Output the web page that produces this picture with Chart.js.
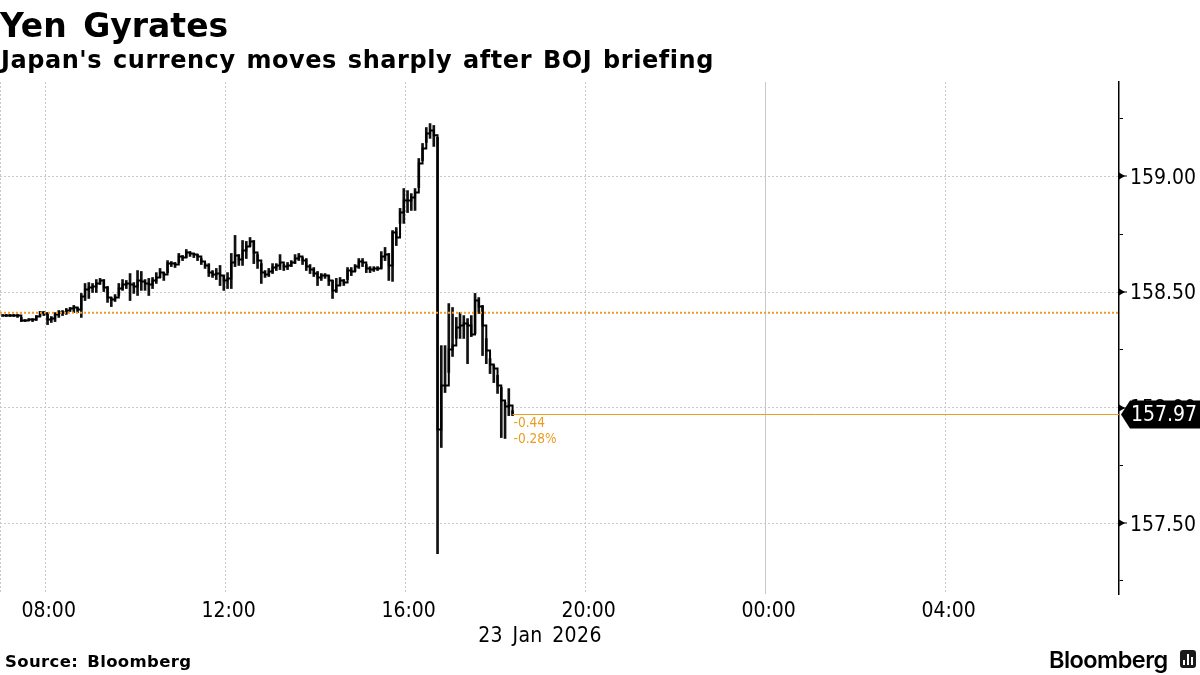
<!DOCTYPE html>
<html>
<head>
<meta charset="utf-8">
<title>Yen Gyrates</title>
<script src="https://cdn.jsdelivr.net/npm/chart.js@4"></script>
<style>
    html, body { margin: 0; padding: 0; background: #fff; }
    #page { position: relative; width: 1200px; height: 675px; overflow: hidden; }
    #page div { position: absolute; white-space: pre; color: #000; }
    canvas { position: absolute; left: 0; top: 0; }
    #title { left: 0; top: 6px; font: bold 33px "DejaVu Sans"; line-height: 40px; word-spacing: 5px; }
    #subtitle { left: 1px; top: 44px; font: bold 24px "DejaVu Sans"; line-height: 32px; letter-spacing: 0.55px; word-spacing: 2px; }
    #date { left: 540px; top: 622px; transform: translateX(-50%); font: 21px "DejaVu Sans Condensed"; line-height: 26px; letter-spacing: 0.4px; word-spacing: 3px; }
    #source { left: 5px; top: 651px; font: bold 16.5px "DejaVu Sans"; line-height: 22px; letter-spacing: 0.35px; word-spacing: 3px; }
    #brand { left: 1049px; top: 645px; font: 600 23.5px Inter; line-height: 30px; letter-spacing: -0.55px; }
    #logo { left: 1180px; top: 650px; width: 16px; height: 18px; background: #1a1a1a; border-radius: 3px; }
    #logo span { position: absolute; bottom: 3px; width: 2px; background: #fff; }
</style>
</head>
<body>
<div id="page">
    <canvas id="chart" width="1200" height="675"></canvas>
    <div id="title">Yen Gyrates</div>
    <div id="subtitle">Japan's currency moves sharply after BOJ briefing</div>
    <div id="date">23 Jan 2026</div>
    <div id="source">Source: Bloomberg</div>
    <div id="brand">Bloomberg</div>
    <div id="logo"><span style="left:3px;height:5px"></span><span style="left:7px;height:11px"></span><span style="left:11px;height:8px"></span></div>
</div>
<script>
var barTimes = [
    "07:00", "07:05", "07:10", "07:15", "07:20", "07:25", "07:30", "07:35", "07:40", "07:45", "07:50", "07:55",
    "08:00", "08:05", "08:10", "08:15", "08:20", "08:25", "08:30", "08:35", "08:40", "08:45", "08:50", "08:55",
    "09:00", "09:05", "09:10", "09:15", "09:20", "09:25", "09:30", "09:35", "09:40", "09:45", "09:50", "09:55",
    "10:00", "10:05", "10:10", "10:15", "10:20", "10:25", "10:30", "10:35", "10:40", "10:45", "10:50", "10:55",
    "11:00", "11:05", "11:10", "11:15", "11:20", "11:25", "11:30", "11:35", "11:40", "11:45", "11:50", "11:55",
    "12:00", "12:05", "12:10", "12:15", "12:20", "12:25", "12:30", "12:35", "12:40", "12:45", "12:50", "12:55",
    "13:00", "13:05", "13:10", "13:15", "13:20", "13:25", "13:30", "13:35", "13:40", "13:45", "13:50", "13:55",
    "14:00", "14:05", "14:10", "14:15", "14:20", "14:25", "14:30", "14:35", "14:40", "14:45", "14:50", "14:55",
    "15:00", "15:05", "15:10", "15:15", "15:20", "15:25", "15:30", "15:35", "15:40", "15:45", "15:50", "15:55",
    "16:00", "16:05", "16:10", "16:15", "16:20", "16:25", "16:30", "16:35", "16:40", "16:45", "16:50", "16:55",
    "17:00", "17:05", "17:10", "17:15", "17:20", "17:25", "17:30", "17:35", "17:40", "17:45", "17:50", "17:55",
    "18:00", "18:05", "18:10", "18:15", "18:20"
];

var highs = [
    158.403, 158.403, 158.403, 158.403, 158.403, 158.390, 158.381, 158.385, 158.385, 158.398,
    158.416, 158.416, 158.411, 158.394, 158.411, 158.420, 158.420, 158.429, 158.433, 158.442,
    158.433, 158.494, 158.537, 158.541, 158.537, 158.554, 158.559, 158.554, 158.524, 158.476,
    158.489, 158.537, 158.554, 158.550, 158.580, 158.541, 158.593, 158.589, 158.554, 158.559,
    158.563, 158.584, 158.602, 158.584, 158.636, 158.632, 158.628, 158.667, 158.658, 158.684,
    158.675, 158.667, 158.662, 158.645, 158.623, 158.623, 158.593, 158.602, 158.615, 158.571,
    158.584, 158.667, 158.745, 158.662, 158.723, 158.719, 158.736, 158.723, 158.662, 158.623,
    158.593, 158.602, 158.623, 158.623, 158.662, 158.619, 158.628, 158.636, 158.662, 158.667,
    158.649, 158.645, 158.619, 158.606, 158.589, 158.580, 158.580, 158.571, 158.550, 158.559,
    158.563, 158.554, 158.606, 158.606, 158.619, 158.645, 158.645, 158.619, 158.610, 158.610,
    158.610, 158.675, 158.693, 158.667, 158.766, 158.779, 158.862, 158.948, 158.939, 158.926,
    158.948, 159.078, 159.143, 159.212, 159.229, 159.221, 159.169, 158.268, 158.268, 158.450,
    158.433, 158.390, 158.411, 158.398, 158.385, 158.398, 158.494, 158.476, 158.442, 158.299,
    158.212, 158.182, 158.139, 158.087, 158.022, 158.082, 157.987
];

var lows = [
    158.394, 158.394, 158.394, 158.394, 158.390, 158.372, 158.372, 158.377, 158.372, 158.377,
    158.394, 158.398, 158.359, 158.368, 158.372, 158.390, 158.398, 158.403, 158.416, 158.411,
    158.411, 158.390, 158.463, 158.472, 158.498, 158.498, 158.533, 158.502, 158.455, 158.437,
    158.459, 158.485, 158.507, 158.515, 158.463, 158.494, 158.485, 158.507, 158.507, 158.485,
    158.515, 158.537, 158.563, 158.550, 158.584, 158.610, 158.606, 158.628, 158.636, 158.649,
    158.654, 158.649, 158.636, 158.619, 158.602, 158.567, 158.563, 158.554, 158.528, 158.507,
    158.515, 158.515, 158.610, 158.615, 158.615, 158.645, 158.697, 158.623, 158.602, 158.537,
    158.563, 158.567, 158.580, 158.593, 158.597, 158.593, 158.597, 158.610, 158.623, 158.636,
    158.619, 158.593, 158.580, 158.567, 158.528, 158.550, 158.559, 158.528, 158.472, 158.498,
    158.528, 158.528, 158.554, 158.571, 158.589, 158.602, 158.610, 158.584, 158.584, 158.589,
    158.593, 158.602, 158.636, 158.550, 158.546, 158.701, 158.797, 158.797, 158.844, 158.853,
    158.853, 158.952, 159.069, 159.147, 159.165, 159.130, 157.368, 157.827, 158.065, 158.152,
    158.221, 158.299, 158.299, 158.299, 158.190, 158.307, 158.320, 158.407, 158.225, 158.190,
    158.147, 158.108, 158.061, 157.870, 157.866, 157.965, 157.965
];

var closes = [
    158.398, 158.398, 158.398, 158.398, 158.398, 158.377, 158.377, 158.381, 158.381, 158.394,
    158.411, 158.407, 158.381, 158.385, 158.403, 158.411, 158.411, 158.420, 158.429, 158.433,
    158.424, 158.481, 158.511, 158.520, 158.524, 158.537, 158.550, 158.520, 158.476, 158.468,
    158.476, 158.515, 158.533, 158.537, 158.533, 158.524, 158.550, 158.546, 158.537, 158.533,
    158.550, 158.563, 158.584, 158.576, 158.623, 158.623, 158.619, 158.654, 158.649, 158.671,
    158.667, 158.662, 158.654, 158.632, 158.615, 158.584, 158.576, 158.580, 158.571, 158.550,
    158.559, 158.628, 158.658, 158.641, 158.680, 158.697, 158.719, 158.671, 158.636, 158.584,
    158.576, 158.589, 158.606, 158.615, 158.628, 158.610, 158.615, 158.628, 158.645, 158.654,
    158.636, 158.610, 158.597, 158.580, 158.563, 158.571, 158.571, 158.550, 158.507, 158.528,
    158.550, 158.541, 158.593, 158.589, 158.610, 158.632, 158.628, 158.602, 158.597, 158.602,
    158.602, 158.654, 158.662, 158.615, 158.758, 158.736, 158.844, 158.896, 158.896, 158.909,
    158.931, 159.056, 159.121, 159.186, 159.199, 159.178, 157.905, 158.095, 158.095, 158.251,
    158.268, 158.346, 158.355, 158.364, 158.355, 158.316, 158.463, 158.437, 158.355, 158.247,
    158.186, 158.169, 158.095, 158.030, 158.004, 158.009, 157.970
];

var previousClose = 158.41;
var lastPrice = 157.97;
var changeLabels = ["-0.44", "-0.28%"];

var xTickHours = [7, 8, 12, 16, 20, 24, 28];
var xTickLabels = ["", "08:00", "12:00", "16:00", "20:00", "00:00", "04:00"];
var yTickValues = [157.25, 157.5, 157.75, 158, 158.25, 158.5, 158.75, 159, 159.25];

var xMin = 6.985;
var xMax = 31.852;
var yMin = 157.193;
var yMax = 159.409;

var BAR_CENTRE = 2.5 / 60;
var FONT = "'DejaVu Sans Condensed'";
var ORANGE = "#ec9c1e";
var GRID = "#c8c8c8";

function hourOf(t) {
    var parts = t.split(":");
    return parseInt(parts[0], 10) + parseInt(parts[1], 10) / 60 + BAR_CENTRE;
}

function isMajor(v) {
    return Math.abs(v * 2 - Math.round(v * 2)) < 1e-6;
}

var hours = barTimes.map(hourOf);

var rangeBars = hours.map(function (h, i) {
    return { x: h, y: [lows[i], highs[i]] };
});
var closeLine = hours.map(function (h, i) {
    return { x: h, y: closes[i] };
});

// price tag, axis arrows and the change figures
var overlay = {
    id: "overlay",
    afterDraw: function (chart) {
        var ctx = chart.ctx;
        var xs = chart.scales.x;
        var ys = chart.scales.y;
        var axisX = chart.chartArea.right;

        ctx.save();
        ctx.fillStyle = "#000";
        yTickValues.forEach(function (v) {
            if (!isMajor(v)) {
                return;
            }
            var py = Math.round(ys.getPixelForValue(v));
            ctx.beginPath();
            ctx.moveTo(axisX, py - 3.5);
            ctx.lineTo(axisX + 6, py);
            ctx.lineTo(axisX, py + 3.5);
            ctx.closePath();
            ctx.fill();
            ctx.fillRect(axisX, py - 0.5, 8, 1);
        });

        var tagY = ys.getPixelForValue(lastPrice);
        ctx.beginPath();
        ctx.moveTo(1121, tagY);
        ctx.lineTo(1130, tagY - 14);
        ctx.lineTo(1200, tagY - 14);
        ctx.lineTo(1200, tagY + 14);
        ctx.lineTo(1130, tagY + 14);
        ctx.closePath();
        ctx.fill();

        ctx.fillStyle = "#fff";
        ctx.font = "21px " + FONT;
        ctx.textAlign = "left";
        ctx.textBaseline = "middle";
        ctx.fillText(lastPrice.toFixed(2), 1131, tagY + 1);

        ctx.fillStyle = ORANGE;
        ctx.font = "13.5px " + FONT;
        var labelX = xs.getPixelForValue(hours[hours.length - 1]) + 1;
        ctx.fillText(changeLabels[0], labelX, tagY + 9);
        ctx.fillText(changeLabels[1], labelX, tagY + 25);
        ctx.restore();
    }
};

new Chart(document.getElementById("chart"), {
    type: "bar",
    data: {
        datasets: [
            {
                type: "line",
                data: [{ x: xMin, y: previousClose }, { x: xMax, y: previousClose }],
                borderColor: ORANGE,
                borderWidth: 2,
                borderDash: [2, 2],
                pointRadius: 0,
                order: 0,
            },
            {
                type: "line",
                data: [{ x: hours[hours.length - 1], y: lastPrice }, { x: xMax, y: lastPrice }],
                borderColor: ORANGE,
                borderWidth: 1,
                pointRadius: 0,
                order: 1,
            },
            {
                type: "line",
                data: closeLine,
                borderColor: "#000",
                borderWidth: 2,
                stepped: "before",
                pointRadius: 0,
                order: 2,
            },
            {
                type: "bar",
                data: rangeBars,
                backgroundColor: "#111",
                barThickness: 2,
                order: 3,
            },
        ],
    },
    options: {
        responsive: false,
        animation: false,
        layout: { padding: { top: 82, left: 0, right: 0, bottom: 0 } },
        plugins: {
            legend: { display: false },
            tooltip: { enabled: false },
        },
        scales: {
            x: {
                type: "linear",
                offset: false,
                min: xMin,
                max: xMax,
                afterBuildTicks: function (axis) {
                    axis.ticks = xTickHours.map(function (h) {
                        return { value: h };
                    });
                },
                afterFit: function (axis) {
                    axis.height = 81;
                    axis.paddingLeft = 0;
                    axis.paddingRight = 0;
                },
                grid: {
                    offset: false,
                    drawTicks: false,
                    lineWidth: 1,
                    color: GRID,
                },
                border: {
                    display: false,
                    dash: function (ctx) {
                        return ctx.tick && ctx.tick.value === 24 ? [] : [2, 2];
                    },
                },
                ticks: {
                    autoSkip: false,
                    maxRotation: 0,
                    padding: 5,
                    labelOffset: 3,
                    color: "#000",
                    font: { family: FONT, size: 21 },
                    callback: function (value) {
                        return xTickLabels[xTickHours.indexOf(value)];
                    },
                },
            },
            y: {
                type: "linear",
                position: "right",
                min: yMin,
                max: yMax,
                afterBuildTicks: function (axis) {
                    axis.ticks = yTickValues.map(function (v) {
                        return { value: v };
                    });
                },
                afterFit: function (axis) {
                    axis.width = 81;
                },
                grid: {
                    tickLength: 4,
                    tickColor: "#000",
                    tickWidth: 1,
                    lineWidth: 1,
                    color: function (ctx) {
                        return ctx.tick && isMajor(ctx.tick.value) ? GRID : "rgba(0,0,0,0)";
                    },
                },
                border: {
                    display: true,
                    color: "#000",
                    width: 1.5,
                    dash: [2, 2],
                },
                ticks: {
                    padding: 7,
                    labelOffset: 2,
                    color: "#000",
                    font: { family: FONT, size: 21 },
                    callback: function (value) {
                        return isMajor(value) ? value.toFixed(2) : "";
                    },
                },
            },
        },
    },
    plugins: [overlay],
});
</script>
</body>
</html>
